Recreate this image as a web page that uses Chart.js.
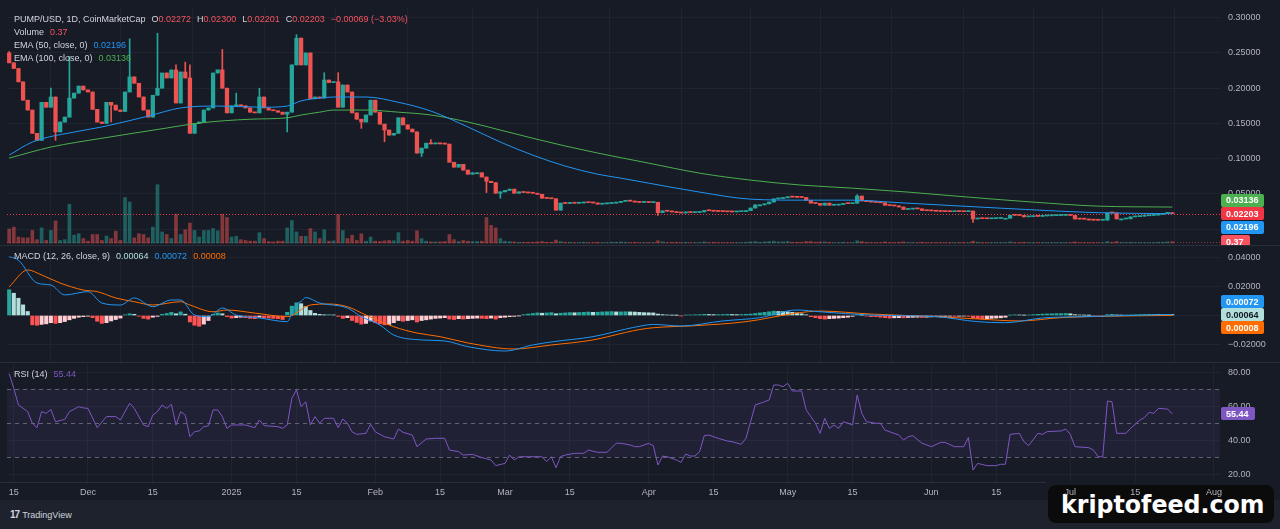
<!DOCTYPE html>
<html>
<head>
<meta charset="utf-8">
<script src="https://cdn.jsdelivr.net/npm/chart.js@4.4.1/dist/chart.umd.min.js"></script>
<style>
  html, body { margin: 0; padding: 0; background: #171b26; }
  #wrap { position: relative; width: 1280px; height: 529px; overflow: hidden; background: #171b26;
          font-family: "Liberation Sans", Arial, sans-serif; }
  #wrap canvas { position: absolute; left: 0; }
  .sep { position: absolute; left: 0; width: 1280px; height: 1px; background: #2a2e39; }
  .leg { position: absolute; left: 14px; font-size: 9px; line-height: 12px; color: #d1d4dc; white-space: nowrap; }
  .leg b { font-weight: normal; margin-left: 6px; }
  .leg i { font-style: normal; color: #f7525f; }
  #footer { position: absolute; left: 0; top: 500px; width: 1280px; height: 29px; background: #1e222d; }
  #tv { position: absolute; left: 10px; top: 9px; font-size: 9px; color: #d1d4dc; }
  #tv span { font-weight: bold; font-size: 10px; margin-right: 3px; letter-spacing: -1px; }
  #mark { position: absolute; left: 1048px; top: 485px; width: 226px; height: 38px; background: #0b0b0c;
          border-radius: 8px; overflow: hidden; }
  #mark div { position: absolute; left: 13px; top: 8px; color: #ffffff; font-family: "DejaVu Sans Condensed", "DejaVu Sans";
              font-weight: bold; font-size: 24px; line-height: 24px; transform-origin: 0 0; white-space: nowrap; }
</style>
</head>
<body>
<div id="wrap">
  <div id="footer"><div id="tv"><span>17</span>TradingView</div></div>
  <div id="mark"><div id="markText">kriptofeed.com</div></div>

  <canvas id="priceChart" width="1280" height="246" style="top:0"></canvas>
  <canvas id="macdChart" width="1280" height="117" style="top:246px"></canvas>
  <canvas id="rsiChart" width="1280" height="137" style="top:363px"></canvas>
  <div class="sep" style="top:245px"></div>
  <div class="sep" style="top:362px"></div>
  <div class="sep" style="top:482px; width:1046px"></div>

  <div class="leg" style="top:13px">PUMP/USD, 1D, CoinMarketCap<b>O<i>0.02272</i></b><b>H<i>0.02300</i></b><b>L<i>0.02201</i></b><b>C<i>0.02203</i></b><b><i>−0.00069 (−3.03%)</i></b></div>
  <div class="leg" style="top:26px">Volume<b style="color:#f7525f">0.37</b></div>
  <div class="leg" style="top:39px">EMA (50, close, 0)<b style="color:#2196f3">0.02196</b></div>
  <div class="leg" style="top:52px">EMA (100, close, 0)<b style="color:#4caf50">0.03136</b></div>
  <div class="leg" style="top:250px">MACD (12, 26, close, 9)<b style="color:#b2dfdb">0.00064</b><b style="color:#2196f3">0.00072</b><b style="color:#ff6d00">0.00008</b></div>
  <div class="leg" style="top:368px">RSI (14)<b style="color:#7e57c2">55.44</b></div>
</div>

<script>
//-------------
//- DATA -
//-------------
// daily candles, index 0 = 14 Nov 2024, last = 23 Jul 2025
var firstOpen = 0.250;
var closes = [
  0.236, 0.228, 0.209, 0.183, 0.169, 0.136, 0.126, 0.180, 0.173, 0.1875,
  0.138, 0.152, 0.159, 0.186, 0.193, 0.203, 0.1975, 0.1946, 0.170, 0.152,
  0.150, 0.180, 0.176, 0.169, 0.167, 0.1946, 0.216, 0.207, 0.1875, 0.169,
  0.159, 0.190, 0.200, 0.2216, 0.2145, 0.2259, 0.179, 0.223, 0.2145, 0.136,
  0.150, 0.152, 0.169, 0.172, 0.2216, 0.226, 0.200, 0.165, 0.175, 0.176,
  0.175, 0.172, 0.166, 0.165, 0.1875, 0.172, 0.169, 0.168, 0.166, 0.163,
  0.166, 0.233, 0.271, 0.233, 0.250, 0.185, 0.1875, 0.186, 0.2116, 0.208,
  0.209, 0.173, 0.2045, 0.1946, 0.165, 0.156, 0.152, 0.162, 0.183, 0.166,
  0.149, 0.1406, 0.1335, 0.136, 0.158, 0.148, 0.142, 0.138, 0.108, 0.115,
  0.122, 0.121, 0.122, 0.121, 0.1207, 0.095, 0.088, 0.092, 0.0838, 0.078,
  0.080, 0.080, 0.074, 0.068, 0.066, 0.051, 0.053, 0.055, 0.0568, 0.051,
  0.053, 0.052, 0.0515, 0.051, 0.0495, 0.044, 0.0437, 0.0432, 0.027, 0.037,
  0.0365, 0.0375, 0.0368, 0.0372, 0.038, 0.0376, 0.0372, 0.0355, 0.036, 0.0365,
  0.037, 0.038, 0.0395, 0.040, 0.0398, 0.0385, 0.038, 0.0383, 0.0378, 0.0382,
  0.0235, 0.026, 0.0255, 0.0245, 0.0235, 0.023, 0.0245, 0.0235, 0.0238, 0.0245,
  0.0265, 0.0262, 0.0255, 0.0252, 0.025, 0.0247, 0.0245, 0.0248, 0.025, 0.0262,
  0.030, 0.0345, 0.0345, 0.036, 0.0385, 0.043, 0.0435, 0.0445, 0.046, 0.0455,
  0.0452, 0.045, 0.041, 0.037, 0.0365, 0.034, 0.037, 0.034, 0.0342, 0.035,
  0.0365, 0.0362, 0.0368, 0.047, 0.040, 0.039, 0.0385, 0.038, 0.0375, 0.034,
  0.0335, 0.033, 0.0315, 0.028, 0.0285, 0.029, 0.0288, 0.0265, 0.0262, 0.026,
  0.0255, 0.0252, 0.025, 0.0248, 0.0252, 0.025, 0.0248, 0.0258, 0.0145, 0.0152,
  0.015, 0.0148, 0.015, 0.0153, 0.0155, 0.0155, 0.0198, 0.0197, 0.0195, 0.0175,
  0.0178, 0.0185, 0.0182, 0.0188, 0.019, 0.0192, 0.0194, 0.0196, 0.0198, 0.0195,
  0.0145, 0.0143, 0.0142, 0.013, 0.0128, 0.0127, 0.0128, 0.0232, 0.023, 0.0145,
  0.0145, 0.0147, 0.0175, 0.0178, 0.0185, 0.019, 0.0195, 0.020, 0.021, 0.0225,
  0.02272, 0.02203
];
var volumes = [
  3.8, 4.3, 1.6, 1.4, 1.4, 3.4, 0.9, 4.1, 0.7, 3.4,
  6.0, 0.7, 0.9, 10.5, 2.1, 2.5, 1.2, 0.5, 2.3, 2.3,
  0.7, 1.9, 1.2, 3.2, 0.7, 12.3, 11.1, 1.4, 2.5, 2.3,
  1.4, 4.3, 15.8, 3.0, 2.3, 1.2, 7.8, 2.3, 3.6, 5.4,
  3.4, 1.6, 3.4, 3.4, 3.9, 3.3, 7.8, 6.9, 1.6, 1.8,
  0.9, 0.7, 0.5, 0.5, 2.8, 1.2, 0.4, 0.3, 0.5, 0.5,
  4.1, 6.1, 3.0, 1.8, 1.8, 3.9, 3.0, 1.2, 3.6, 0.5,
  0.6, 7.7, 3.4, 1.2, 2.1, 0.7, 2.5, 0.5, 1.6, 0.5,
  0.4, 0.6, 0.7, 0.6, 2.8, 0.5, 0.7, 0.5, 3.3, 1.2,
  0.5, 0.3, 0.3, 0.3, 0.4, 2.3, 0.9, 0.4, 0.7, 0.5,
  0.4, 0.4, 0.5, 6.9, 4.8, 4.1, 1.2, 0.5, 0.4, 0.3,
  0.2, 0.2, 0.2, 0.2, 0.3, 0.4, 0.2, 0.2, 0.8, 0.4,
  0.2, 0.2, 0.1, 0.1, 0.2, 0.1, 0.1, 0.2, 0.1, 0.1,
  0.2, 0.2, 0.3, 0.2, 0.1, 0.2, 0.1, 0.1, 0.1, 0.1,
  0.6, 0.3, 0.1, 0.2, 0.2, 0.1, 0.2, 0.1, 0.1, 0.1,
  0.3, 0.1, 0.2, 0.1, 0.1, 0.1, 0.1, 0.1, 0.1, 0.2,
  0.3, 0.4, 0.2, 0.3, 0.4, 0.5, 0.3, 0.3, 0.4, 0.2,
  0.2, 0.2, 0.4, 0.4, 0.2, 0.3, 0.3, 0.2, 0.1, 0.1,
  0.2, 0.1, 0.1, 0.6, 0.4, 0.2, 0.1, 0.1, 0.1, 0.3,
  0.1, 0.1, 0.2, 0.3, 0.1, 0.1, 0.1, 0.2, 0.1, 0.1,
  0.1, 0.1, 0.1, 0.1, 0.1, 0.1, 0.1, 0.1, 0.5, 0.2,
  0.1, 0.1, 0.1, 0.1, 0.1, 0.1, 0.3, 0.1, 0.1, 0.2,
  0.1, 0.1, 0.1, 0.1, 0.1, 0.1, 0.1, 0.1, 0.1, 0.1,
  0.3, 0.1, 0.1, 0.1, 0.1, 0.1, 0.1, 0.4, 0.2, 0.4,
  0.1, 0.1, 0.2, 0.1, 0.1, 0.1, 0.1, 0.1, 0.2, 0.2,
  0.3, 0.37
];
// long wicks only: [day, price]
var wickHighs = [[0, 0.252], [2, 0.226], [9, 0.200], [13, 0.245], [26, 0.270], [32, 0.278], [36, 0.233],
  [38, 0.237], [39, 0.233], [46, 0.255], [49, 0.193], [54, 0.200], [62, 0.276], [68, 0.222], [71, 0.222],
  [91, 0.127], [183, 0.049], [251, 0.023]];
var wickLows = [[10, 0.126], [22, 0.152], [60, 0.138], [76, 0.143], [81, 0.124], [89, 0.103], [103, 0.052],
  [106, 0.044], [140, 0.0195], [208, 0.0095], [251, 0.02201]];

var ema50Points = [[0, 0.1051], [5, 0.1236], [15, 0.139], [20, 0.145], [30, 0.1605], [37, 0.172], [45, 0.1747],
  [55, 0.173], [60, 0.1747], [63, 0.182], [67, 0.186], [70, 0.1875], [77, 0.1875], [84, 0.180], [91, 0.1676],
  [99, 0.145], [106, 0.1236], [113, 0.105], [120, 0.0895], [127, 0.078], [132, 0.0724], [138, 0.0653],
  [149, 0.0526], [160, 0.0426], [171, 0.0412], [182, 0.0412], [192, 0.0376], [214, 0.0298], [235, 0.0234],
  [251, 0.02196]];
var ema100Points = [[0, 0.1009], [9, 0.1165], [20, 0.129], [34, 0.1435], [41, 0.1506], [52, 0.156], [60, 0.158],
  [63, 0.162], [67, 0.166], [70, 0.169], [77, 0.169], [84, 0.166], [91, 0.162], [99, 0.152], [106, 0.1406],
  [113, 0.129], [120, 0.118], [127, 0.108], [138, 0.0937], [149, 0.0795], [160, 0.0696], [171, 0.0625],
  [182, 0.0582], [194, 0.0526], [207, 0.0455], [221, 0.0384], [235, 0.0327], [251, 0.03136]];

var macdPoints = [[0, 0.0409], [2, 0.0385], [6, 0.0226], [9, 0.0212], [12, 0.0143], [17, 0.0166], [20, 0.0087],
  [24, 0.0073], [27, 0.0122], [31, 0.0061], [35, 0.0108], [37, 0.0108], [40, 0.0003], [43, -0.0008],
  [46, 0.0052], [49, 0.0003], [54, -0.0017], [60, -0.0043], [61, 0.0012], [62, 0.0078], [63, 0.0098],
  [64, 0.0125], [67, 0.0087], [73, 0.0052], [76, -0.0008], [80, -0.0066], [83, -0.0136], [89, -0.017],
  [94, -0.0177], [99, -0.0217], [107, -0.0247], [113, -0.0205], [117, -0.0184], [126, -0.0147],
  [133, -0.0095], [136, -0.0075], [139, -0.0062], [145, -0.0073], [154, -0.0038], [162, -0.0015],
  [170, 0.0038], [175, 0.0026], [186, 0.0003], [200, -0.0008], [209, -0.0043], [215, -0.005],
  [223, -0.0017], [232, -0.0008], [241, 0.0], [251, 0.00072]];
var signalPoints = [[0, 0.020], [4, 0.0317], [7, 0.0282], [11, 0.0226], [16, 0.0177], [19, 0.0166], [23, 0.0122],
  [27, 0.0096], [31, 0.0073], [37, 0.0096], [39, 0.0073], [44, 0.0026], [47, 0.0038], [53, 0.0017],
  [60, -0.0008], [65, 0.0073], [69, 0.008], [73, 0.0061], [77, 0.0003], [83, -0.0078], [88, -0.0122],
  [93, -0.0147], [99, -0.0191], [109, -0.0233], [117, -0.0205], [126, -0.017], [133, -0.0118],
  [136, -0.0098], [139, -0.0085], [148, -0.0071], [159, -0.0043], [170, 0.0017], [175, 0.0031],
  [186, 0.001], [200, -0.0008], [209, -0.0024], [218, -0.0038], [227, -0.0015], [241, -0.0003],
  [251, 0.00008]];
var histValues = [
  0.0179, 0.0155, 0.012, 0.0074, 0.0028,
  -0.0065, -0.0068, -0.0062, -0.0058, -0.005, -0.0055, -0.005, -0.0042, -0.003, -0.002,
  -0.0012, -0.0008, -0.0005, -0.0015,
  -0.004, -0.0055, -0.005, -0.0038, -0.0028, -0.0018,
  0.0005, 0.0012, 0.0008, -0.0005,
  -0.002, -0.0025, -0.0012, -0.0006,
  0.0008, 0.0014, 0.0022, 0.0012, 0.0025, 0.0009,
  -0.0045, -0.0068, -0.0075, -0.006, -0.0035,
  0.0008, 0.0018, 0.0012,
  -0.0008, -0.0018, -0.0015, -0.0012, -0.0015, -0.002, -0.0022, -0.0012, -0.0015, -0.0018, -0.002, -0.0022, -0.0028,
  0.0022, 0.0065, 0.0088, 0.0082, 0.0062, 0.0035, 0.0015,
  0.0008, 0.0005, 0.0006, 0.0004, -0.0006,
  -0.002, -0.0015, -0.0035, -0.0048, -0.006, -0.0055, -0.0038, -0.005, -0.0058, -0.0065, -0.0062, -0.005, -0.0035,
  -0.004, -0.0035, -0.003, -0.0045, -0.0035, -0.003, -0.0025, -0.002, -0.0018, -0.0015, -0.0025, -0.0028, -0.0022,
  -0.0025, -0.0022, -0.002, -0.0018, -0.002, -0.0022, -0.0018, -0.0025, -0.0015, -0.0012, -0.0008, -0.0006, -0.0002,
  0.0006, 0.001, 0.0014, 0.0018, 0.0016, 0.0018, 0.002, 0.0012, 0.0016, 0.0018, 0.002, 0.0019, 0.0021, 0.0022,
  0.0024, 0.0022, 0.0023, 0.0025, 0.0026, 0.0027, 0.0025,
  0.0025, 0.0026, 0.0025, 0.0024, 0.0022, 0.002, 0.0019, 0.0018, 0.001, 0.0006, 0.0004, 0.0002, 0.0001,
  -0.0002, 0.0003, 0.0004, 0.0005, 0.0006, 0.0008, 0.0007, 0.0006, 0.0006, 0.0007, 0.0008, 0.0007, 0.0006, 0.0007, 0.0008, 0.001,
  0.0014, 0.0018, 0.0022, 0.0026, 0.003, 0.0028, 0.0027, 0.0026,
  0.0022, 0.0018, 0.0012, 0.0005,
  -0.0008, -0.0015, -0.0022, -0.0025, -0.0022, -0.002, -0.0018, -0.0015, -0.0012,
  -0.0006, 0.0004, 0.0002, -0.0004, -0.0008, -0.0008, -0.0012,
  -0.0015, -0.0018, -0.0016, -0.0015, -0.0016, -0.0014, -0.0013, -0.0012, -0.0014, -0.0012, -0.001, -0.0008,
  -0.0007, -0.0006, -0.0005, -0.0006, -0.0005, -0.0004,
  -0.0006, -0.0018, -0.0022, -0.0024, -0.0022, -0.002, -0.0018, -0.0016,
  -0.0012, 0.0002, 0.0005, 0.0004, 0.0002, 0.0003, 0.0006, 0.0008,
  0.001, 0.0011, 0.0012, 0.0013, 0.0013, 0.0014, 0.0012,
  0.0006, 0.0004, 0.0002, 0.0001, -0.0002, -0.0004, -0.0006,
  0.0006, 0.0008, 0.0004, 0.0002, 0.0003, 0.0004, 0.0005, 0.0006, 0.0007, 0.0008, 0.0008, 0.0007, 0.0007, 0.0007, 0.00064
];

var rsiPoints = [[0, 79], [1, 70.4], [2, 60.7], [4, 56.8], [5, 50], [6, 47.4], [7, 56.8], [8, 55.8], [9, 58.1],
  [10, 50.9], [12, 52.3], [13, 56.8], [15, 59.7], [16, 59], [17, 58.7], [19, 47.4], [21, 53.9], [23, 53.9],
  [24, 51.9], [26, 61.7], [27, 58.7], [29, 49], [30, 48], [31, 54.8], [32, 56.8], [33, 60.7], [34, 58.7],
  [35, 61.1], [36, 49], [37, 56.8], [38, 54.8], [39, 42.1], [40, 45.1], [41, 45.5], [42, 48], [43, 48.5],
  [44, 57.8], [45, 57.8], [46, 53.9], [47, 47], [48, 49], [51, 49], [53, 47.4], [54, 51.9], [55, 48.6],
  [58, 48], [59, 47], [60, 49], [61, 64.6], [62, 69.5], [63, 59.7], [64, 62.6], [65, 49], [66, 53.9],
  [67, 50], [68, 52.9], [70, 52.9], [71, 47.4], [72, 52.5], [73, 50], [74, 45], [75, 43.5], [77, 44.1],
  [78, 49.4], [79, 45], [81, 42.1], [83, 40.8], [84, 46.6], [85, 44.7], [87, 43.1], [88, 36.3], [90, 40.8],
  [92, 41.2], [94, 41.2], [95, 34.3], [97, 33.4], [98, 31.4], [100, 31.8], [102, 29.9], [104, 28.5],
  [105, 25.2], [107, 26.5], [108, 31.4], [109, 28.5], [110, 30.4], [112, 30.4], [115, 30.4], [116, 27.5],
  [117, 30.4], [118, 24], [119, 30.5], [120, 31.4], [122, 32.4], [124, 32.4], [125, 34.3], [127, 33],
  [129, 33], [131, 38.3], [132, 38.3], [134, 37.3], [135, 36.3], [136, 36.3], [138, 38.2], [139, 36.9],
  [140, 25.6], [141, 30.8], [142, 30.4], [144, 28.5], [145, 27.1], [146, 32], [147, 30.8], [148, 30.8],
  [149, 33.4], [150, 42.7], [151, 43.1], [153, 41.2], [155, 39.6], [156, 39.2], [158, 37.7], [159, 41.2],
  [160, 50.9], [161, 60.7], [163, 62.6], [164, 63.6], [165, 72.4], [166, 72.4], [167, 71.4], [168, 73.4],
  [169, 68.9], [171, 68.9], [172, 57.8], [173, 53.9], [174, 50], [175, 44.1], [176, 52.9], [177, 47],
  [178, 49], [179, 47], [180, 50.9], [181, 50], [182, 49], [183, 66.5], [184, 55.8], [185, 50.9], [187, 50],
  [188, 50], [189, 46], [192, 43.1], [193, 40.2], [194, 42.1], [195, 42.7], [197, 38.3], [199, 36.3],
  [201, 38.8], [202, 38.8], [204, 36.3], [206, 36.3], [207, 41.6], [208, 22.6], [209, 26.5], [211, 25.2],
  [213, 25.2], [214, 26], [215, 26], [216, 43.5], [218, 44.1], [219, 39.2], [220, 36.9], [222, 44.1],
  [223, 43.5], [224, 45.1], [227, 45.5], [228, 46.6], [229, 43.5], [230, 36.3], [233, 35.7], [234, 34.3],
  [235, 30.4], [236, 30.4], [237, 63], [238, 62.6], [239, 44.1], [241, 44.1], [242, 47], [244, 51.9],
  [245, 53.3], [246, 56.4], [247, 55.8], [248, 58.7], [250, 58.3], [251, 55.44]];

var tickDays = [1, 17, 31, 48, 62, 79, 93, 107, 121, 138, 152, 168, 182, 199, 213, 229, 243, 260];
var tickText = ["15", "Dec", "15", "2025", "15", "Feb", "15", "Mar", "15", "Apr", "15", "May", "15", "Jun", "15", "Jul", "15", "Aug"];
var priceTicks = [0, 0.05, 0.10, 0.15, 0.20, 0.25, 0.30];
var macdTicks = [-0.02, 0, 0.02, 0.04];
var rsiTicks = [20, 40, 60, 80];

//-------------
//- STYLE -
//-------------
var FONT = '"Liberation Sans", Arial, sans-serif';
var GRID = '#20242f';
var TXT = '#b2b5be';
var UP = '#26a69a', DOWN = '#ef5350';

function pts(list) {
  return list.map(function (p) { return { x: p[0], y: p[1] }; });
}

// no label padding: keeps every pane's plot area on fixed pixels
function noPad(ax) {
  ax.paddingTop = 0; ax.paddingBottom = 0; ax.paddingLeft = 0; ax.paddingRight = 0;
}

function xAxis(showLabels) {
  return {
    type: 'linear', min: -0.47, max: 261.3, offset: false,
    grid: { color: GRID, drawTicks: false },
    border: { display: false },
    afterBuildTicks: function (ax) { ax.ticks = tickDays.map(function (d) { return { value: d }; }); },
    afterFit: function (ax) { ax.height = showLabels ? 18 : 0; noPad(ax); },
    ticks: {
      display: showLabels, autoSkip: false, maxRotation: 0, padding: 5, color: TXT,
      font: { size: 9, family: FONT },
      callback: function (v) { var k = tickDays.indexOf(v); return k < 0 ? '' : tickText[k]; }
    }
  };
}

function yAxis(min, max, ticks, fmt) {
  return {
    position: 'right', min: min, max: max,
    grid: { color: GRID, drawTicks: false },
    border: { display: false },
    afterBuildTicks: function (ax) { ax.ticks = ticks.map(function (v) { return { value: v }; }); },
    afterFit: function (ax) { ax.width = 60; noPad(ax); },
    ticks: { color: TXT, font: { size: 9, family: FONT }, padding: 8, callback: fmt }
  };
}

function tag(ctx, y, text, bg, fg, w) {
  ctx.fillStyle = bg;
  ctx.beginPath();
  ctx.roundRect(1221, Math.round(y - 6.5), w, 13, 2);
  ctx.fill();
  ctx.fillStyle = fg;
  ctx.font = 'bold 9px ' + FONT;
  ctx.textAlign = 'left';
  ctx.textBaseline = 'middle';
  ctx.fillText(text, 1226, Math.round(y) + 0.5);
}

function hline(ctx, x0, x1, y) {
  ctx.beginPath();
  ctx.moveTo(x0, y);
  ctx.lineTo(x1, y);
  ctx.stroke();
}

var baseOptions = {
  responsive: false, animation: false, devicePixelRatio: 1, events: [],
  plugins: { legend: { display: false }, tooltip: { enabled: false } }
};
function opts(extra) {
  return Object.assign({}, baseOptions, extra);
}

//-------------
//- CANDLES -
//-------------
var opens = closes.map(function (c, i) { return i === 0 ? firstOpen : closes[i - 1]; });
var highs = closes.map(function (c, i) { return Math.max(c, opens[i]); });
var lows = closes.map(function (c, i) { return Math.min(c, opens[i]); });
wickHighs.forEach(function (p) { highs[p[0]] = Math.max(highs[p[0]], p[1]); });
wickLows.forEach(function (p) { lows[p[0]] = Math.min(lows[p[0]], p[1]); });

var candleColors = closes.map(function (c, i) { return c >= opens[i] ? UP : DOWN; });
var volColors = closes.map(function (c, i) { return c >= opens[i] ? 'rgba(38,166,154,0.5)' : 'rgba(239,83,80,0.5)'; });

var lastClose = closes[closes.length - 1];
var lastVol = volumes[volumes.length - 1];

var priceMarks = {
  id: 'priceMarks',
  beforeDatasetsDraw: function (chart) {
    var ctx = chart.ctx, a = chart.chartArea;
    ctx.save();
    ctx.lineWidth = 1;
    ctx.setLineDash([1, 2]);
    ctx.strokeStyle = '#f23645';
    hline(ctx, a.left, a.right, Math.round(chart.scales.y.getPixelForValue(lastClose)) + 0.5);
    ctx.strokeStyle = 'rgba(239,83,80,0.55)';
    hline(ctx, a.left, a.right, Math.round(chart.scales.yv.getPixelForValue(lastVol)) + 0.5);
    ctx.restore();
  },
  afterDraw: function (chart) {
    var ctx = chart.ctx, y = chart.scales.y, yv = chart.scales.yv;
    var e100 = ema100Points[ema100Points.length - 1][1], e50 = ema50Points[ema50Points.length - 1][1];
    var pc = y.getPixelForValue(lastClose);
    var pe100 = Math.min(y.getPixelForValue(e100), pc - 13.5);
    var pe50 = Math.max(y.getPixelForValue(e50), pc + 13.5);
    var pv = Math.max(yv.getPixelForValue(lastVol), pe50 + 13.5);
    ctx.save();
    tag(ctx, pe100, e100.toFixed(5), '#4caf50', '#ffffff', 43);
    tag(ctx, pc, lastClose.toFixed(5), '#f23645', '#ffffff', 43);
    tag(ctx, pe50, e50.toFixed(5), '#2196f3', '#ffffff', 43);
    tag(ctx, pv, lastVol.toFixed(2), '#f7525f', '#ffffff', 29);
    ctx.restore();
  }
};

new Chart(document.getElementById('priceChart').getContext('2d'), {
  type: 'bar',
  data: {
    datasets: [
      { type: 'line', data: pts(ema50Points), borderColor: '#2196f3', borderWidth: 1, pointRadius: 0,
        cubicInterpolationMode: 'monotone', yAxisID: 'y', order: 0 },
      { type: 'line', data: pts(ema100Points), borderColor: '#4caf50', borderWidth: 1, pointRadius: 0,
        cubicInterpolationMode: 'monotone', yAxisID: 'y', order: 0 },
      { data: closes.map(function (c, i) { return { x: i, y: [lows[i], highs[i]] }; }),
        backgroundColor: candleColors, barThickness: 1, grouped: false, yAxisID: 'y', order: 1 },
      { data: closes.map(function (c, i) { return { x: i, y: [opens[i], c] }; }),
        backgroundColor: candleColors, barThickness: 3.6, minBarLength: 1, grouped: false, yAxisID: 'y', order: 1 },
      { data: volumes.map(function (v, i) { return { x: i, y: v }; }),
        backgroundColor: volColors, barThickness: 3, grouped: false, yAxisID: 'yv', order: 2 }
    ]
  },
  options: opts({
    layout: { padding: { left: 7, right: 0, top: 7, bottom: 1 } },
    scales: {
      x: xAxis(false),
      y: yAxis(-0.02244, 0.3152, priceTicks, function (v) { return v.toFixed(5); }),
      yv: { display: false, min: -0.54, max: 63.96 }
    }
  }),
  plugins: [priceMarks]
});

//-------------
//- MACD -
//-------------
var histColors = histValues.map(function (v, i) {
  var p = i > 0 ? histValues[i - 1] : v;
  if (v >= 0) return v >= p ? '#26a69a' : '#b2dfdb';
  return v <= p ? '#ff5252' : '#ffcdd2';
});
var lastHist = histValues[histValues.length - 1];
var lastMacd = macdPoints[macdPoints.length - 1][1];
var lastSignal = signalPoints[signalPoints.length - 1][1];

var macdMarks = {
  id: 'macdMarks',
  afterDraw: function (chart) {
    var ctx = chart.ctx, ph = chart.scales.y.getPixelForValue(lastHist);
    ctx.save();
    tag(ctx, ph - 13, lastMacd.toFixed(5), '#2196f3', '#ffffff', 43);
    tag(ctx, ph, lastHist.toFixed(5), '#b2dfdb', '#131722', 43);
    tag(ctx, ph + 13, lastSignal.toFixed(5), '#ff6d00', '#ffffff', 43);
    ctx.restore();
  }
};

new Chart(document.getElementById('macdChart').getContext('2d'), {
  type: 'bar',
  data: {
    datasets: [
      { type: 'line', data: pts(macdPoints), borderColor: '#2196f3', borderWidth: 1, pointRadius: 0,
        cubicInterpolationMode: 'monotone', order: 0 },
      { type: 'line', data: pts(signalPoints), borderColor: '#ff6d00', borderWidth: 1, pointRadius: 0,
        cubicInterpolationMode: 'monotone', order: 0 },
      { data: histValues.map(function (v, i) { return { x: i, y: v }; }),
        backgroundColor: histColors, barThickness: 3.4, grouped: false, order: 1 }
    ]
  },
  options: opts({
    layout: { padding: { left: 7, right: 0, top: 1, bottom: 0 } },
    scales: {
      x: xAxis(false),
      y: yAxis(-0.033043, 0.047652, macdTicks, function (v) { return (v < 0 ? '−' : '') + Math.abs(v).toFixed(5); })
    }
  }),
  plugins: [macdMarks]
});

//-------------
//- RSI -
//-------------
var rsiBand = {
  id: 'rsiBand',
  beforeDatasetsDraw: function (chart) {
    var ctx = chart.ctx, a = chart.chartArea, y = chart.scales.y;
    var y70 = y.getPixelForValue(70), y30 = y.getPixelForValue(30);
    ctx.save();
    ctx.fillStyle = 'rgba(126,87,194,0.1)';
    ctx.fillRect(a.left, y70, a.right - a.left, y30 - y70);
    ctx.strokeStyle = 'rgba(120,123,134,0.75)';
    ctx.lineWidth = 1;
    ctx.setLineDash([4, 4]);
    [70, 50, 30].forEach(function (v) { hline(ctx, a.left, a.right, Math.round(y.getPixelForValue(v)) + 0.5); });
    ctx.restore();
  },
  afterDraw: function (chart) {
    var last = rsiPoints[rsiPoints.length - 1][1];
    chart.ctx.save();
    tag(chart.ctx, chart.scales.y.getPixelForValue(last), last.toFixed(2), '#7e57c2', '#ffffff', 34);
    chart.ctx.restore();
  }
};

new Chart(document.getElementById('rsiChart').getContext('2d'), {
  type: 'line',
  data: {
    datasets: [
      { data: pts(rsiPoints), borderColor: '#7e57c2', borderWidth: 1, pointRadius: 0, tension: 0 }
    ]
  },
  options: opts({
    layout: { padding: { left: 7, right: 0, top: 1, bottom: 0 } },
    scales: {
      x: xAxis(true),
      y: yAxis(15.61, 84.70, rsiTicks, function (v) { return v.toFixed(2); })
    }
  }),
  plugins: [rsiBand]
});

// squeeze the watermark text into its box
var mt = document.getElementById('markText');
mt.style.transform = 'scaleX(' + (204 / mt.offsetWidth) + ')';
</script>
</body>
</html>
